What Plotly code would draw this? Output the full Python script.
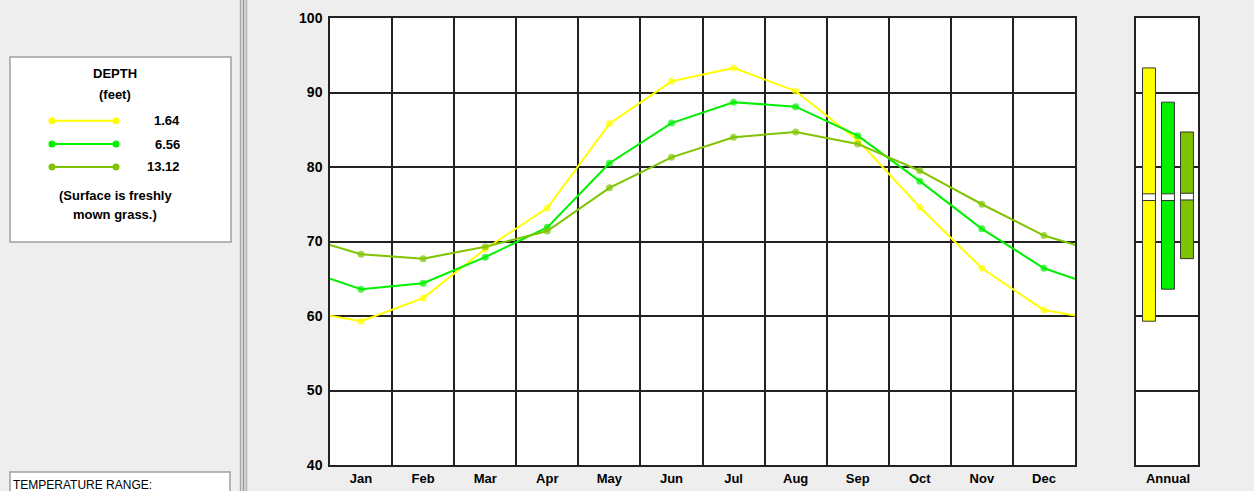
import numpy as np
import plotly.graph_objects as go

# ---------------- data ----------------
months = ["Jan", "Feb", "Mar", "Apr", "May", "Jun", "Jul", "Aug", "Sep", "Oct", "Nov", "Dec"]
depth_labels = ["1.64", "6.56", "13.12"]
temp_164 = [59.3, 62.4, 69.0, 74.5, 85.8, 91.5, 93.3, 90.2, 83.6, 74.6, 66.4, 60.8]
temp_656 = [63.6, 64.4, 67.9, 71.9, 80.5, 85.9, 88.7, 88.1, 84.2, 78.1, 71.7, 66.4]
temp_1312 = [68.3, 67.7, 69.3, 71.4, 77.2, 81.3, 84.0, 84.7, 83.1, 79.5, 75.0, 70.8]
series = [temp_164, temp_656, temp_1312]
colors = ["#ffff00", "#00f000", "#80c400"]

W, H = 1254, 491


def X(px):
    return px / W


def Y(py):
    return 1 - py / H


fig = go.Figure()

# ---------------- monthly lines ----------------
xs = list(np.arange(len(months)) + 0.5)
for vals, col, lab in zip(series, colors, depth_labels):
    wrap = (vals[-1] + vals[0]) / 2  # value at the Dec/Jan boundary
    x = [0] + xs + [len(months)]
    y = [wrap] + vals + [wrap]
    sizes = [0] + [7] * len(vals) + [0]
    fig.add_trace(go.Scatter(
        x=x, y=y, mode="lines+markers", name=lab,
        line=dict(color=col, width=2),
        marker=dict(size=sizes, color=col, line=dict(width=0)),
        showlegend=False, hoverinfo="skip",
    ))

# ---------------- annual range bars ----------------
mins = [min(v) for v in series]
maxs = [max(v) for v in series]
means = [float(np.mean(v)) for v in series]
bx = [1, 2, 3]
fig.add_trace(go.Bar(
    x=bx, y=[a - b for a, b in zip(maxs, mins)], base=mins,
    xaxis="x2", yaxis="y2", width=0.68,
    marker=dict(color=colors, line=dict(color="#333333", width=1)),
    showlegend=False, hoverinfo="skip",
))
band = 0.9
fig.add_trace(go.Bar(
    x=bx, y=[band] * 3, base=[m - band / 2 for m in means],
    xaxis="x2", yaxis="y2", width=0.68,
    marker=dict(color="white", line=dict(color="#333333", width=1)),
    showlegend=False, hoverinfo="skip",
))

GRID = "#222222"
bold13 = dict(family="Liberation Sans, Arial", size=13, color="black", weight="bold")
bold14 = dict(family="Liberation Sans, Arial", size=14, color="black", weight="bold")

fig.update_layout(
    width=W, height=H,
    margin=dict(l=0, r=0, t=0, b=0, autoexpand=False),
    paper_bgcolor="#eeeeee", plot_bgcolor="white",
    barmode="overlay",
    xaxis=dict(
        domain=[X(330), X(1075)], range=[0, len(months)], automargin=False,
        tickvals=xs, ticktext=months, tickfont=bold13, ticklabelstandoff=1,
        showgrid=False, zeroline=False,
        minor=dict(tick0=0, dtick=1, showgrid=True, gridcolor=GRID, gridwidth=1.5),
        showline=True, mirror=True, linecolor=GRID, linewidth=1.5,
        ticks="", fixedrange=True,
    ),
    yaxis=dict(
        domain=[Y(465), Y(18)], range=[40, 100], dtick=10, tick0=40, automargin=False,
        tickfont=bold14, ticklabelstandoff=3, showgrid=True, gridcolor=GRID, gridwidth=1.5,
        zeroline=False, showline=True, mirror=True, linecolor=GRID, linewidth=1.5,
        ticks="", fixedrange=True,
    ),
    xaxis2=dict(
        domain=[X(1136), X(1198)], range=[0.316, 3.58], anchor="y2", automargin=False,
        tickvals=[2], ticktext=["Annual"], tickfont=bold13, ticklabelstandoff=1,
        showgrid=False, zeroline=False,
        showline=True, mirror=True, linecolor=GRID, linewidth=1.5,
        ticks="", fixedrange=True,
    ),
    yaxis2=dict(
        domain=[Y(465), Y(18)], range=[40, 100], dtick=10, tick0=40, anchor="x2",
        automargin=False,
        showticklabels=False, showgrid=True, gridcolor=GRID, gridwidth=1.5,
        zeroline=False, showline=True, mirror=True, linecolor=GRID, linewidth=1.5,
        ticks="", fixedrange=True,
    ),
)

# ---------------- left panel ----------------
shapes = [
    dict(type="rect", xref="paper", yref="paper", x0=X(10), x1=X(231), y0=Y(242), y1=Y(57),
         fillcolor="white", line=dict(color="#a0a0a0", width=1.5), layer="below"),
    dict(type="rect", xref="paper", yref="paper", x0=X(10), x1=X(230), y0=Y(500), y1=Y(472),
         fillcolor="white", line=dict(color="#a0a0a0", width=1.5), layer="below"),
    dict(type="rect", xref="paper", yref="paper", x0=X(239.5), x1=X(247.5), y0=0, y1=1,
         fillcolor="#d4d4d4", line=dict(width=0), layer="below"),
    dict(type="line", xref="paper", yref="paper", x0=X(240.5), x1=X(240.5), y0=0, y1=1,
         line=dict(color="#a8a8a8", width=1)),
    dict(type="line", xref="paper", yref="paper", x0=X(243.5), x1=X(243.5), y0=0, y1=1,
         line=dict(color="#909090", width=1)),
    dict(type="line", xref="paper", yref="paper", x0=X(246.5), x1=X(246.5), y0=0, y1=1,
         line=dict(color="#b4b4b4", width=1)),
]
legend_y = [120.7, 144, 167]
for ly, col in zip(legend_y, colors):
    shapes.append(dict(type="line", xref="paper", yref="paper", x0=X(52), x1=X(116),
                       y0=Y(ly), y1=Y(ly), line=dict(color=col, width=2)))
    for cx in (52, 116):
        shapes.append(dict(type="circle", xref="paper", yref="paper",
                           x0=X(cx - 3.5), x1=X(cx + 3.5), y0=Y(ly + 3.5), y1=Y(ly - 3.5),
                           fillcolor=col, line=dict(width=0)))
fig.update_layout(shapes=shapes)

ann = []
for txt, py in [("DEPTH", 74), ("(feet)", 95), ("(Surface is freshly", 195), ("mown grass.)", 215)]:
    ann.append(dict(text=txt, x=X(115), y=Y(py), xref="paper", yref="paper",
                    xanchor="center", yanchor="middle", showarrow=False, font=bold13))
for lab, ly in zip(depth_labels, legend_y):
    ann.append(dict(text=lab, x=X(182), y=Y(ly), xref="paper", yref="paper",
                    xanchor="right", yanchor="middle", showarrow=False, font=bold13))
ann.append(dict(text="TEMPERATURE RANGE:", x=X(11), y=Y(485), xref="paper", yref="paper",
                xanchor="left", yanchor="middle", showarrow=False,
                font=dict(family="Liberation Sans, Arial", size=12, color="black")))
fig.update_layout(annotations=ann)

fig.write_html("out.html", config={"displayModeBar": False},
               post_script="document.body.style.margin='0';document.body.style.overflow='hidden';")
